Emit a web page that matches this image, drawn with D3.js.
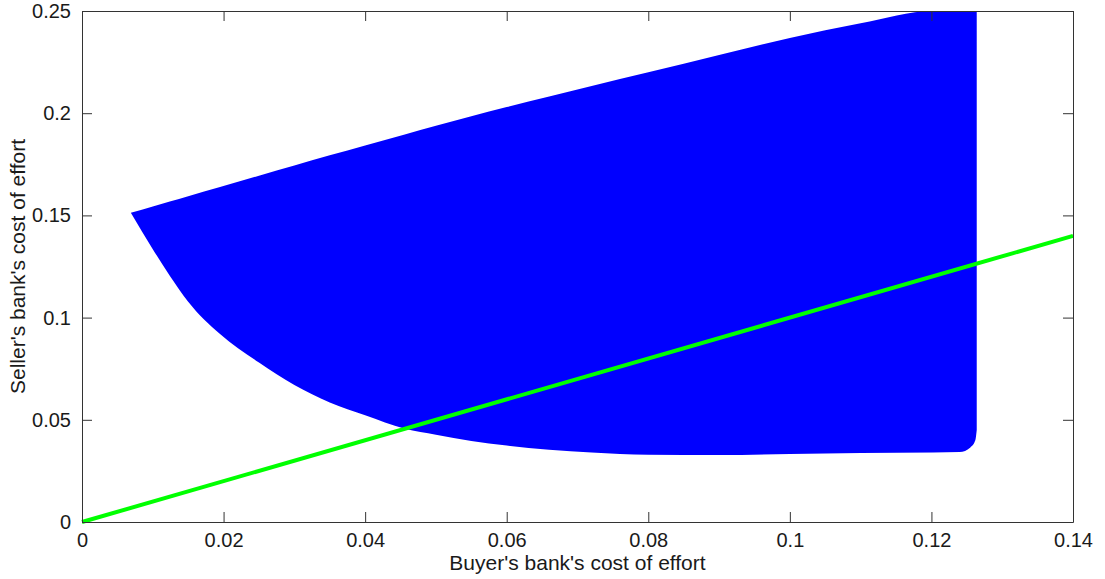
<!DOCTYPE html>
<html>
<head>
<meta charset="utf-8">
<script src="https://cdn.jsdelivr.net/npm/d3@7"></script>
<style>
body { margin: 0; background: white; }
.axis text { font-family: "Liberation Sans", Arial, sans-serif; font-size: 20px; fill: #1a1a1a; }
.label { font-family: "Liberation Sans", Arial, sans-serif; font-size: 21px; fill: #1a1a1a; }
</style>
</head>
<body>
<script>

// buyer's bank cost (x) with the lower and upper edge of the blue region
const effortX    = [0.0069, 0.010, 0.0124, 0.015, 0.0195, 0.025, 0.030, 0.035, 0.040, 0.0456, 0.050, 0.055, 0.060, 0.066, 0.072, 0.080, 0.090, 0.100, 0.110, 0.1202, 0.124, 0.1255, 0.1262, 0.1264];
const upperBound = [0.1513, 0.1544, 0.1568, 0.1594, 0.1639, 0.1694, 0.1744, 0.1794, 0.1842, 0.1896, 0.1938, 0.1985, 0.2030, 0.2082, 0.2133, 0.2200, 0.2285, 0.2368, 0.2440, 0.2500, 0.2500, 0.2500, 0.2500, 0.2500];
const lowerBound = [0.1513, 0.1335, 0.1205, 0.1078, 0.0920, 0.0780, 0.0670, 0.0585, 0.0522, 0.0456, 0.0427, 0.0396, 0.0374, 0.0354, 0.0340, 0.0329, 0.0328, 0.0333, 0.0337, 0.0340, 0.0342, 0.0365, 0.0400, 0.0450];

// the 45 degree line
const lineX = [0, 0.14];
const lineY = [0, 0.14];

const xTicks = [0, 0.02, 0.04, 0.06, 0.08, 0.1, 0.12, 0.14];
const yTicks = [0, 0.05, 0.1, 0.15, 0.2, 0.25];

const svg = d3.select("body").append("svg")
  .attr("width", 1105)
  .attr("height", 579);

const margin = {top: 11, right: 32, bottom: 57, left: 82};
const width = 1105 - margin.left - margin.right;
const height = 579 - margin.top - margin.bottom;
const g = svg.append("g").attr("transform", `translate(${margin.left}, ${margin.top})`);

const x = d3.scaleLinear().domain([0, 0.14]).range([0, width]);
const y = d3.scaleLinear().domain([0, 0.25]).range([height, 0]);

const region = effortX.map((d, i) => [d, lowerBound[i], upperBound[i]]);

const area = d3.area().curve(d3.curveMonotoneX)
  .x(d => x(d[0]))
  .y0(d => y(d[1]))
  .y1(d => y(d[2]));

g.append("path").datum(region)
  .attr("fill", "#0000ff")
  .attr("d", area);

const line = d3.line().x(d => x(d[0])).y(d => y(d[1]));
g.append("path").datum(lineX.map((d, i) => [d, lineY[i]]))
  .attr("fill", "none")
  .attr("stroke", "#00ff00")
  .attr("stroke-width", 4)
  .attr("d", line);

const fmt = d => String(d);

// MATLAB style: ticks pointing inward on all four sides
const axes = [
  [d3.axisBottom(x).tickValues(xTicks).tickFormat(fmt), `translate(0, ${height})`],
  [d3.axisTop(x).tickValues(xTicks).tickFormat(""), `translate(0, 0)`],
  [d3.axisLeft(y).tickValues(yTicks).tickFormat(fmt), `translate(0, 0)`],
  [d3.axisRight(y).tickValues(yTicks).tickFormat(""), `translate(${width}, 0)`]
];

axes.forEach(([ax, tr]) => {
  const a = g.append("g").attr("class", "axis").attr("transform", tr)
    .call(ax.tickSizeInner(-10).tickSizeOuter(0).tickPadding(11));
  a.select(".domain").attr("stroke", "#333");
  a.selectAll(".tick line").attr("stroke", "#333");
});

svg.append("text").attr("class", "label")
  .attr("x", margin.left + width / 2)
  .attr("y", 570)
  .attr("text-anchor", "middle")
  .text("Buyer's bank's cost of effort");

svg.append("text").attr("class", "label")
  .attr("transform", `translate(25, ${margin.top + height / 2}) rotate(-90)`)
  .attr("text-anchor", "middle")
  .text("Seller's bank's cost of effort");

</script>
</body>
</html>
